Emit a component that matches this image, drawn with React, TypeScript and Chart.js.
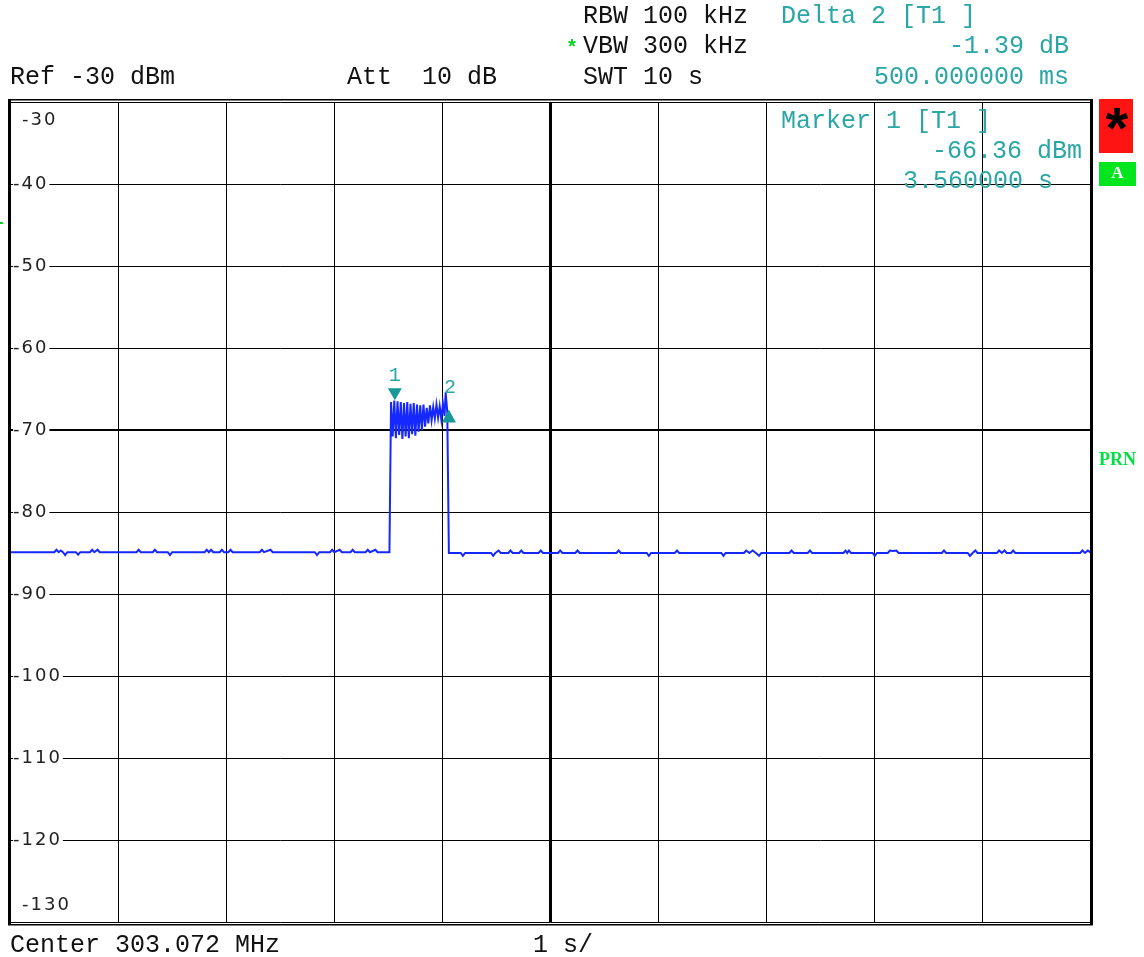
import React, { useEffect, useRef } from "react";
import { Chart, registerables } from "chart.js";

Chart.register(...registerables);

// ---- data ----
const traceTimes = [
  0.0, 0.41, 0.43, 0.45, 0.47, 0.49, 0.51, 0.53, 0.61, 0.63, 0.65, 0.74, 0.76, 0.78, 0.81, 0.83,
  1.17, 1.19, 1.21, 1.32, 1.34, 1.36, 1.46, 1.48, 1.5, 1.8, 1.82, 1.84, 1.86, 1.88, 1.94, 1.96,
  1.98, 2.02, 2.04, 2.06, 2.31, 2.33, 2.35, 2.41, 2.43, 2.82, 2.84, 2.86, 2.96, 2.98, 3.0, 3.05,
  3.07, 3.15, 3.17, 3.19, 3.29, 3.31, 3.33, 3.38, 3.4, 3.51,
  3.525, 3.54, 3.555, 3.57, 3.585, 3.6, 3.615, 3.63, 3.645, 3.66, 3.675, 3.69, 3.705, 3.72, 3.735,
  3.75, 3.765, 3.78, 3.795, 3.81, 3.825, 3.84, 3.855, 3.87, 3.885, 3.9, 3.915, 3.93, 3.945, 3.96,
  3.975, 3.99, 4.005, 4.02, 4.03, 4.045, 4.06,
  4.17, 4.19, 4.21, 4.45, 4.47, 4.49, 4.52, 4.54, 4.61, 4.63, 4.65, 4.71, 4.73, 4.75, 4.89, 4.91,
  4.93, 5.07, 5.09, 5.11, 5.23, 5.25, 5.27, 5.61, 5.63, 5.65, 5.89, 5.91, 5.93, 6.15, 6.17, 6.19,
  6.58, 6.6, 6.62, 6.79, 6.81, 6.84, 6.87, 6.9, 6.93, 6.95, 7.21, 7.23, 7.25, 7.38, 7.4, 7.42,
  7.71, 7.73, 7.745, 7.76, 7.78, 7.98, 8.0, 8.02, 8.12, 8.14, 8.17, 8.2, 8.22, 8.62, 8.64, 8.66,
  8.86, 8.88, 8.905, 8.93, 8.95, 9.13, 9.15, 9.175, 9.2, 9.22, 9.26, 9.28, 9.3, 9.9, 9.92, 9.945,
  9.97, 10.0,
];
const traceLevels = [
  -84.9, -84.9, -84.6, -84.9, -84.7, -84.9, -85.25, -84.9, -84.9, -85.2, -84.9, -84.9, -84.6, -84.9, -84.6, -84.9,
  -84.9, -84.6, -84.9, -84.9, -84.6, -84.9, -84.9, -85.25, -84.9, -84.9, -84.6, -84.9, -84.6, -84.9, -84.9, -84.6,
  -84.9, -84.9, -84.6, -84.9, -84.9, -84.6, -84.9, -84.6, -84.9, -84.9, -85.25, -84.9, -84.9, -84.6, -84.9, -84.6,
  -84.9, -84.9, -84.6, -84.9, -84.9, -84.6, -84.9, -84.6, -84.9, -84.9,
  -66.6, -70.8, -66.4, -71.0, -66.5, -70.6, -66.6, -71.1, -66.7, -70.8, -66.6, -71.0, -66.8, -70.5, -66.7,
  -70.7, -66.9, -70.2, -67.0, -70.0, -66.9, -69.6, -67.3, -69.2, -67.0, -68.8, -67.2, -68.6, -66.9, -68.5,
  -67.1, -68.7, -66.8, -68.3, -65.4, -67.75, -85.0,
  -85.0, -85.35, -85.0, -85.0, -85.35, -85.0, -84.7, -85.0, -85.0, -84.7, -85.0, -85.0, -84.7, -85.0, -85.0, -84.7,
  -85.0, -85.0, -84.7, -85.0, -85.0, -84.7, -85.0, -85.0, -84.7, -85.0, -85.0, -85.35, -85.0, -85.0, -84.7, -85.0,
  -85.0, -85.35, -85.0, -85.0, -84.7, -85.0, -84.7, -85.0, -85.35, -85.0, -85.0, -84.7, -85.0, -85.0, -84.7, -85.0,
  -85.0, -84.7, -85.0, -84.7, -85.0, -85.0, -85.35, -85.0, -85.0, -84.7, -84.75, -84.7, -85.0, -85.0, -84.7, -85.0,
  -85.0, -85.35, -85.0, -84.7, -85.0, -85.0, -84.7, -85.0, -84.7, -85.0, -85.0, -84.7, -85.0, -85.0, -84.7, -85.0,
  -84.7, -84.95,
];

const markerNames = ["1", "2"];
const markerTimes = [3.56, 4.06];
const markerLevels = [-66.36, -67.75];

const yMin = -130;
const yMax = -30;
const yStep = 10;
const xMin = 0;
const xMax = 10;
const xStep = 1;
const yTickLabels = ["-30", "-40", "-50", "-60", "-70", "-80", "-90", "-100", "-110", "-120", "-130"];

const headerRef = "Ref -30 dBm";
const headerAtt = "Att  10 dB";
const headerRbw = "RBW 100 kHz";
const headerVbw = "VBW 300 kHz";
const headerSwt = "SWT 10 s";
const deltaTitle = "Delta 2 [T1 ]";
const deltaLevel = "-1.39 dB";
const deltaTime = "500.000000 ms";
const markerTitle = "Marker 1 [T1 ]";
const markerLevelText = "-66.36 dBm";
const markerTimeText = "3.560000 s";
const footerCenter = "Center 303.072 MHz";
const footerSpan = "1 s/";

const MONO = '"Liberation Mono", "DejaVu Sans Mono", monospace';
const TEAL = "#2aa6a6";
const MARK = "#17999b";

const overlayPlugin = {
  id: "overlay",
  afterDraw(chart: any) {
    const ctx: CanvasRenderingContext2D = chart.ctx;
    const xs = chart.scales.x;
    const ys = chart.scales.y;
    const { left, right, top, bottom } = chart.chartArea;
    ctx.save();

    // frame
    ctx.fillStyle = "#000";
    ctx.fillRect(left - 2, top - 3, 3, bottom - top + 6);
    ctx.fillRect(right - 1, top - 3, 3, bottom - top + 6);
    ctx.fillRect(left - 2, top - 3, right - left + 4, 1.5);
    ctx.fillRect(left - 2, bottom + 2, right - left + 4, 1.5);

    // y labels
    ctx.font = '18px "DejaVu Sans", sans-serif';
    (ctx as any).letterSpacing = "2px";
    ctx.textBaseline = "middle";
    ctx.textAlign = "left";
    yTickLabels.forEach((lab) => {
      const v = Number(lab);
      const y = ys.getPixelForValue(v);
      if (v === yMax) {
        ctx.fillStyle = "#222";
        ctx.fillText(lab, left + 12, y + 18);
      } else if (v === yMin) {
        ctx.fillStyle = "#222";
        ctx.fillText(lab, left + 12, y - 17);
      } else {
        const w = ctx.measureText(lab).width;
        ctx.fillStyle = "#fff";
        ctx.fillRect(left + 3, y - 2, w + 1, 4);
        ctx.fillStyle = "#222";
        ctx.fillText(lab, left + 3, y);
      }
    });
    (ctx as any).letterSpacing = "0px";

    // markers
    markerNames.forEach((name, i) => {
      const x = xs.getPixelForValue(markerTimes[i]);
      const y = ys.getPixelForValue(markerLevels[i]);
      ctx.fillStyle = MARK;
      ctx.beginPath();
      if (i === 0) {
        ctx.moveTo(x - 7, y - 12);
        ctx.lineTo(x + 7, y - 12);
        ctx.lineTo(x, y);
      } else {
        ctx.moveTo(x, y - 2);
        ctx.lineTo(x + 7, y + 11);
        ctx.lineTo(x - 7, y + 11);
      }
      ctx.closePath();
      ctx.fill();
      ctx.fillStyle = TEAL;
      ctx.font = "20px " + MONO;
      ctx.textBaseline = "alphabetic";
      ctx.textAlign = "center";
      if (i === 0) ctx.fillText(name, x, y - 19);
      else ctx.fillText(name, x + 1, y - 19);
    });

    // header text
    ctx.textAlign = "left";
    ctx.textBaseline = "alphabetic";
    ctx.font = "25px " + MONO;
    ctx.fillStyle = "#111";
    ctx.fillText(headerRbw, 583, 23);
    ctx.fillText(headerVbw, 583, 53);
    ctx.fillText(headerSwt, 583, 84);
    ctx.fillText(headerRef, 10, 84);
    ctx.fillText(headerAtt, 347, 84);
    ctx.fillText(footerCenter, 10, 952);
    ctx.fillText(footerSpan, 533, 952);

    ctx.fillStyle = TEAL;
    ctx.fillText(deltaTitle, 781, 23);
    ctx.textAlign = "right";
    ctx.fillText(deltaLevel, 1069, 53);
    ctx.fillText(deltaTime, 1069, 84);
    ctx.textAlign = "left";
    ctx.fillText(markerTitle, 781, 128);
    ctx.fillText(markerLevelText, 932, 158);
    ctx.fillText(markerTimeText, 903, 188);

    // green star before VBW
    ctx.fillStyle = "#00d820";
    ctx.font = "bold 20px " + MONO;
    ctx.fillText("*", 566, 54);

    // red status box
    ctx.fillStyle = "#ff1414";
    ctx.fillRect(1099, 99, 34, 54);
    ctx.fillStyle = "#000";
    ctx.font = "bold 58px " + MONO;
    ctx.textAlign = "center";
    ctx.fillText("*", 1117, 150);

    // green "A" box
    ctx.fillStyle = "#00e61e";
    ctx.fillRect(1099, 162, 37, 24);
    ctx.fillStyle = "#fff";
    ctx.font = 'bold 17px "Liberation Serif", serif';
    ctx.textBaseline = "middle";
    ctx.fillText("A", 1117.5, 174);

    // PRN
    ctx.fillStyle = "#00e040";
    ctx.font = 'bold 18px "Liberation Serif", serif';
    ctx.textAlign = "left";
    ctx.fillText("PRN", 1099, 460);

    // small green tick at left edge
    ctx.fillStyle = "#00d820";
    ctx.fillRect(0, 222, 3, 2);

    ctx.restore();
  },
};

export default function App() {
  const ref = useRef<HTMLCanvasElement | null>(null);
  useEffect(() => {
    if (!ref.current) return;
    const data = traceTimes.map((t, i) => ({ x: t, y: traceLevels[i] }));
    const chart = new Chart(ref.current, {
      type: "line",
      data: {
        datasets: [
          {
            data,
            borderColor: "#1428ff",
            borderWidth: 2,
            pointRadius: 0,
            tension: 0,
            fill: false,
          },
        ],
      },
      options: {
        responsive: false,
        animation: false,
        events: [],
        layout: { padding: { left: 10, top: 102, right: 53, bottom: 35 } },
        plugins: { legend: { display: false }, tooltip: { enabled: false } },
        scales: {
          x: {
            type: "linear",
            min: xMin,
            max: xMax,
            ticks: { display: false, stepSize: xStep },
            border: { display: false },
            grid: {
              color: "#000",
              drawTicks: false,
              lineWidth: (c: any) => (c.tick && c.tick.value === 5 ? 3 : 1),
            },
          },
          y: {
            type: "linear",
            min: yMin,
            max: yMax,
            ticks: { display: false, stepSize: yStep },
            border: { display: false },
            grid: {
              color: "#000",
              drawTicks: false,
              lineWidth: (c: any) => (c.tick && c.tick.value === -70 ? 2 : 1),
            },
          },
        },
      },
      plugins: [overlayPlugin],
    });
    return () => chart.destroy();
  }, []);
  return (
    <div style={{ position: "absolute", left: 0, top: 0, width: 1144, height: 957, background: "#fff" }}>
      <canvas ref={ref} width={1144} height={957} style={{ width: 1144, height: 957, display: "block" }} />
    </div>
  );
}
